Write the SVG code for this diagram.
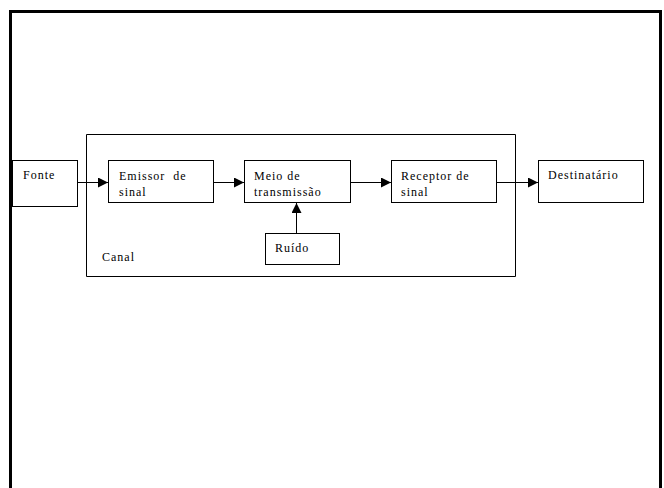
<svg xmlns="http://www.w3.org/2000/svg" width="664" height="488" viewBox="0 0 664 488">
<defs>
<marker id="ah" viewBox="0 0 10 10" refX="10" refY="5" markerWidth="10" markerHeight="10" markerUnits="userSpaceOnUse" orient="auto">
<path d="M0,0 L10,5 L0,10 z" fill="#000"/>
</marker>
<style>
.box{fill:#fff;stroke:#000;stroke-width:1}
.t{font-family:'Liberation Serif','DejaVu Serif',serif;font-size:12px;fill:#000;white-space:pre;letter-spacing:1px}
.c{stroke:#000;stroke-width:1;fill:none}
</style>
</defs>
<rect width="664" height="488" fill="#fff"/>
<path d="M10.5,490 L10.5,11.5 L660.5,11.5 L660.5,490" fill="none" stroke="#000" stroke-width="3"/>
<g id="canal">
<path d="M86.5,134.5 L515.5,134.5 L515.5,276.5 L86.5,276.5 Z" class="c"/>
<text class="t" font-family="Liberation Serif, serif" x="102" y="261">Canal</text>
</g>
<g id="connectors">
<line class="c" x1="77" y1="182.5" x2="108" y2="182.5" marker-end="url(#ah)"/>
<line class="c" x1="213" y1="182.5" x2="244" y2="182.5" marker-end="url(#ah)"/>
<line class="c" x1="350" y1="182.5" x2="391" y2="182.5" marker-end="url(#ah)"/>
<line class="c" x1="496" y1="182.5" x2="538" y2="182.5" marker-end="url(#ah)"/>
<line class="c" x1="296.5" y1="233" x2="296.5" y2="203" marker-end="url(#ah)"/>
</g>
<g id="fonte">
<rect class="box" x="12.5" y="160.5" width="65" height="46"/>
<text class="t" font-family="Liberation Serif, serif" x="23" y="179">Fonte</text>
</g>
<g id="emissor">
<rect class="box" x="108.5" y="160.5" width="105" height="42"/>
<text class="t" font-family="Liberation Serif, serif" x="119" y="180" xml:space="preserve">Emissor  de</text>
<text class="t" font-family="Liberation Serif, serif" x="119" y="196">sinal</text>
</g>
<g id="meio">
<rect class="box" x="244.5" y="160.5" width="106" height="42"/>
<text class="t" font-family="Liberation Serif, serif" x="254" y="180">Meio de</text>
<text class="t" font-family="Liberation Serif, serif" x="254" y="196">transmissão</text>
</g>
<g id="receptor">
<rect class="box" x="391.5" y="160.5" width="105" height="42"/>
<text class="t" font-family="Liberation Serif, serif" x="401" y="180">Receptor de</text>
<text class="t" font-family="Liberation Serif, serif" x="401" y="196">sinal</text>
</g>
<g id="destinatario">
<rect class="box" x="538.5" y="160.5" width="105" height="42"/>
<text class="t" font-family="Liberation Serif, serif" x="548" y="179">Destinatário</text>
</g>
<g id="ruido">
<rect class="box" x="265.5" y="233.5" width="74" height="31"/>
<text class="t" font-family="Liberation Serif, serif" x="275" y="252">Ruído</text>
</g>
</svg>
